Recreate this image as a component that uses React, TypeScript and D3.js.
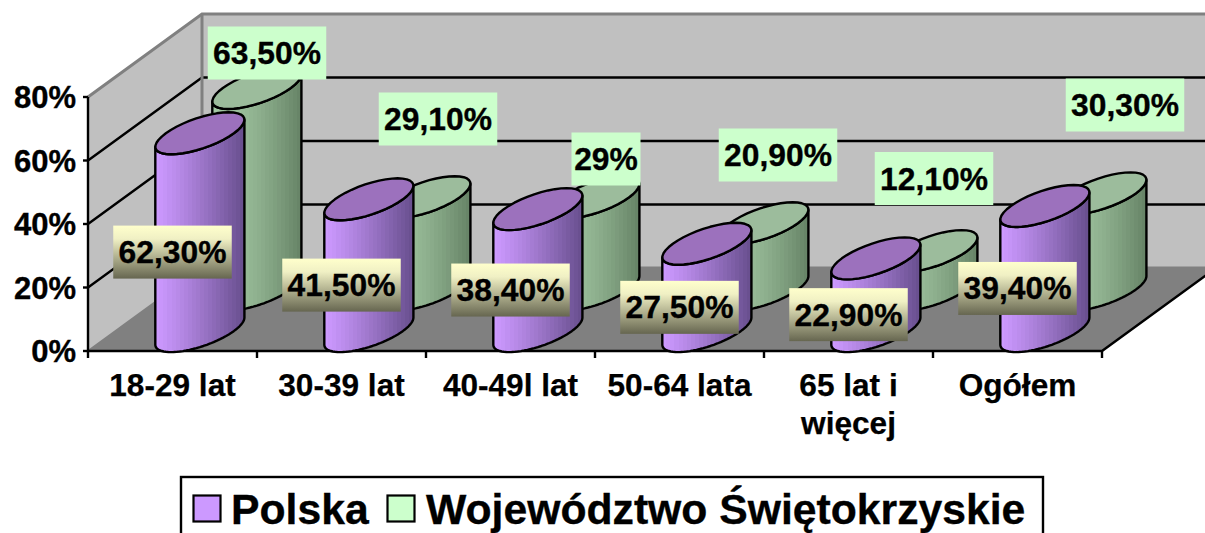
import React from "react";
import * as d3 from "d3";

const categories = [["18-29 lat"], ["30-39 lat"], ["40-49l lat"], ["50-64 lata"], ["65 lat i", "więcej"], ["Ogółem"]];
const polska = [62.3, 41.5, 38.4, 27.5, 22.9, 39.4];
const polskaLabels = ["62,30%", "41,50%", "38,40%", "27,50%", "22,90%", "39,40%"];
const swietokrzyskie = [63.5, 29.1, 29, 20.9, 12.1, 30.3];
const swietokrzyskieLabels = ["63,50%", "29,10%", "29%", "20,90%", "12,10%", "30,30%"];
const yTicks = [0, 20, 40, 60, 80];
// hand-placed label offsets of the second series, as in the source chart
const greenLabelShift: [number, number][] = [[94.5, -298], [96.5, -232], [95.5, -192], [98.5, -196], [85.5, -172.5], [107.5, -246]];

const W = 1205, H = 533;
const left = 88, right = 1102, floorY = 351, topY = 97, DX = 114, DY = 83;
const x = d3.scaleBand<number>().domain(d3.range(6)).range([left, right]);
const y = d3.scaleLinear().domain([0, 80]).range([floorY, topY]);
const font = "'Liberation Sans', Arial, sans-serif";
const ux = 34, vx = 28.8, vy = 21;
const th0 = Math.atan2(vx, ux);
const line = d3.line<[number, number]>().x(d => d[0]).y(d => d[1]);

const ell = (cx: number, cy: number, a: number, b: number) =>
  d3.range(0, 41).map(i => {
    const t = a + (b - a) * i / 40;
    return [cx + ux * Math.cos(t) + vx * Math.sin(t), cy - vy * Math.sin(t)] as [number, number];
  });

function stripes(id: string, c0: string, c1: string, gamma: number) {
  const interp = d3.interpolateRgb(c0, c1);
  const n = 22;
  const stops: React.ReactNode[] = [];
  d3.range(n).forEach(i => {
    const c = interp(Math.pow(i / (n - 1), gamma));
    stops.push(<stop key={i + "a"} offset={i / n} stopColor={c} />);
    stops.push(<stop key={i + "b"} offset={(i + 1) / n} stopColor={c} />);
  });
  return <linearGradient id={id} x1="0" x2="1" y1="0" y2="0">{stops}</linearGradient>;
}

function Cylinder({ i, v, depth, fill, top }: { i: number; v: number; depth: number; fill: string; top: string }) {
  const cx = x(i)! + x.bandwidth() / 2 + depth * DX;
  const by = y(0) - depth * DY;
  const ty = y(v) - depth * DY;
  const body = [...ell(cx, by, th0, th0 - Math.PI), ...ell(cx, ty, th0 - Math.PI, th0)];
  const cap = ell(cx, ty, 0, 2 * Math.PI);
  return (
    <g stroke="#000" strokeWidth={2.4} strokeLinejoin="round">
      <path d={line(body)! + "Z"} fill={fill} />
      <path d={line(cap)! + "Z"} fill={top} />
    </g>
  );
}

function Label({ cx, cy, text, fill }: { cx: number; cy: number; text: string; fill: string }) {
  const w = text.length < 4 ? 69 : 118.5;
  return (
    <g>
      <rect x={cx - w / 2} y={cy - 26.5} width={w} height={53} fill={fill} />
      <text x={cx} y={cy + 11} textAnchor="middle" fontFamily={font} fontWeight="bold" fontSize={31.8} stroke="#000" strokeWidth={0.35} fill="#000">{text}</text>
    </g>
  );
}

export default function App() {
  const center = (i: number) => x(i)! + x.bandwidth() / 2;
  return (
    <svg width={W} height={H} viewBox={`0 0 ${W} ${H}`} style={{ position: "fixed", left: 0, top: 0, display: "block", background: "#fff" }}>
      <defs>
        {stripes("gP", "#cc99ff", "#6a5090", 1.1)}
        {stripes("gG", "#a3c8a3", "#688568", 1.5)}
        <linearGradient id="lab" x1="0" x2="0" y1="0" y2="1">
          <stop offset="0" stopColor="#ffffcc" />
          <stop offset="0.25" stopColor="#f0f0c4" />
          <stop offset="1" stopColor="#666650" />
        </linearGradient>
      </defs>
      {/* walls */}
      <polygon points={`${left + DX},${y(80) - DY} ${W},${y(80) - DY} ${W},${y(0) - DY} ${left + DX},${y(0) - DY}`} fill="#c0c0c0" />
      <polygon points={`${left},${y(0)} ${left},${y(80)} ${left + DX},${y(80) - DY} ${left + DX},${y(0) - DY}`} fill="#c0c0c0" />
      {/* floor */}
      <polygon points={`${left},${y(0)} ${right},${y(0)} ${right + DX},${y(0) - DY} ${left + DX},${y(0) - DY}`} fill="#808080" />
      {/* grid */}
      {yTicks.slice(1, 4).map(t => (
        <g key={t} stroke="#000" strokeWidth={2.4} fill="none">
          <path d={`M${left},${y(t)}L${left + DX},${y(t) - DY}L${W},${y(t) - DY}`} />
        </g>
      ))}
      <g stroke="#808080" strokeWidth={3} fill="none">
        <path d={`M${left},${y(80)}L${left + DX},${y(80) - DY}L${W},${y(80) - DY}`} />
        <path d={`M${left + DX},${y(80) - DY}V${y(0) - DY}L${W},${y(0) - DY}`} />
        <path d={`M${left},${y(0)}L${left + DX},${y(0) - DY}`} strokeWidth={2} />
      </g>
      {/* axes */}
      <g stroke="#000" strokeWidth={2.4} fill="none">
        <path d={`M${left},${y(80)}V${y(0)}H${right}L${right + DX},${y(0) - DY}`} />
        {yTicks.map(t => <path key={t} d={`M${left - 5},${y(t)}H${left}`} />)}
        {d3.range(7).map(i => <path key={i} d={`M${left + i * x.bandwidth()},${y(0)}v7`} />)}
      </g>
      {yTicks.map(t => (
        <text key={t} x={76} y={y(t) + 11} textAnchor="end" fontFamily={font} fontWeight="bold" fontSize={31} stroke="#000" strokeWidth={0.35}>{t}%</text>
      ))}
      {categories.map((c, i) => (
        <text key={i} textAnchor="middle" fontFamily={font} fontWeight="bold" fontSize={31.6} stroke="#000" strokeWidth={0.25}>
          {c.map((s, j) => <tspan key={j} x={center(i)} y={396 + j * 38}>{s}</tspan>)}
        </text>
      ))}
      {/* cylinders */}
      {swietokrzyskie.map((v, i) => <Cylinder key={i} i={i} v={v} depth={0.74} fill="url(#gG)" top="#9cbc9c" />)}
      {polska.map((v, i) => <Cylinder key={i} i={i} v={v} depth={0.24} fill="url(#gP)" top="#9c71bd" />)}
      {/* labels */}
      {swietokrzyskie.map((_, i) => (
        <Label key={i} cx={center(i) + greenLabelShift[i][0]} cy={floorY + greenLabelShift[i][1]} text={swietokrzyskieLabels[i]} fill="#ccffcc" />
      ))}
      {polska.map((v, i) => <Label key={i} cx={center(i)} cy={y(v / 2)} text={polskaLabels[i]} fill="url(#lab)" />)}
      {/* legend */}
      <rect x={181} y={477} width={862} height={60} fill="#fff" stroke="#000" strokeWidth={2.4} />
      <rect x={193.5} y={495.5} width={27} height={26} fill="#cc99ff" stroke="#000" strokeWidth={2.2} />
      <text x={231} y={524} fontFamily={font} fontWeight="bold" fontSize={42.7} stroke="#000" strokeWidth={0.35}>Polska</text>
      <rect x={387.5} y={495.5} width={27} height={26} fill="#ccffcc" stroke="#000" strokeWidth={2.2} />
      <text x={426} y={524} fontFamily={font} fontWeight="bold" fontSize={42.7} stroke="#000" strokeWidth={0.35}>Województwo Świętokrzyskie</text>
    </svg>
  );
}
